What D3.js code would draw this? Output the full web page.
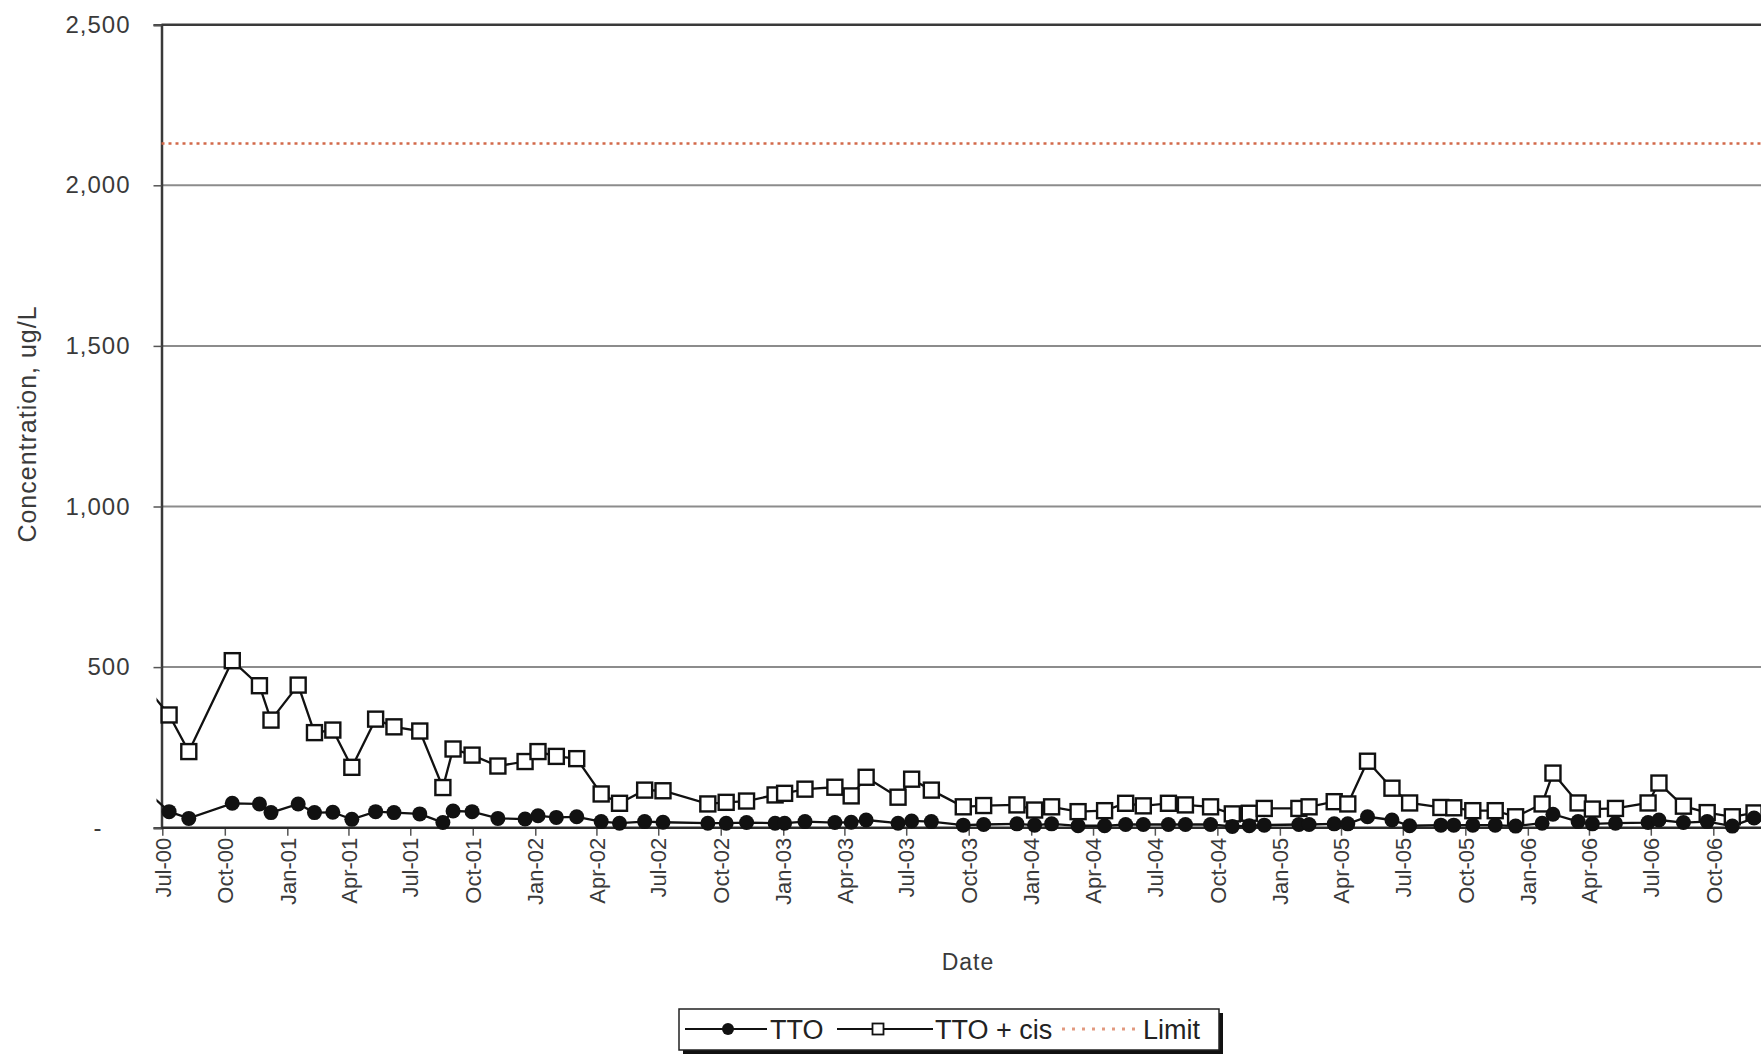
<!DOCTYPE html>
<html>
<head>
<meta charset="utf-8">
<script src="https://cdn.jsdelivr.net/npm/d3@7/dist/d3.min.js"></script>
<style>
  html, body { margin: 0; padding: 0; background: #ffffff; }
  svg { display: block; font-family: "Liberation Sans", Arial, Helvetica, sans-serif; }
</style>
</head>
<body>
<svg id="chart" width="1761" height="1055"></svg>
<script>
// ---------------- DATA ----------------
const sampleDates = [
  "2000-06-13","2000-07-11","2000-08-09","2000-10-12","2000-11-21","2000-12-08",
  "2001-01-17","2001-02-10","2001-03-09","2001-04-06","2001-05-11","2001-06-07",
  "2001-07-15","2001-08-18","2001-09-02","2001-09-30","2001-11-07","2001-12-17",
  "2002-01-05","2002-02-01","2002-03-03","2002-04-08","2002-05-05","2002-06-11",
  "2002-07-08","2002-09-12","2002-10-09","2002-11-08","2002-12-20",
  "2003-01-03","2003-02-02","2003-03-18","2003-04-11","2003-05-03","2003-06-19",
  "2003-07-09","2003-08-07","2003-09-23","2003-10-23","2003-12-11",
  "2004-01-06","2004-01-31","2004-03-10","2004-04-18","2004-05-19","2004-06-14",
  "2004-07-21","2004-08-15","2004-09-21","2004-10-23","2004-11-17","2004-12-09",
  "2005-01-29","2005-02-13","2005-03-22","2005-04-11","2005-05-10","2005-06-15",
  "2005-07-11","2005-08-26","2005-09-14","2005-10-12","2005-11-14","2005-12-14",
  "2006-01-22","2006-02-07","2006-03-16","2006-04-06","2006-05-10","2006-06-27",
  "2006-07-13","2006-08-18","2006-09-22","2006-10-29","2006-11-30"
];
const ttoValues = [
  104, 50, 29, 76, 74, 47,
  74, 47, 48, 26, 50, 47,
  43, 16, 52, 50, 29, 27,
  37, 32, 34, 19, 14, 19,
  17, 14, 14, 16, 14,
  14, 19, 16, 17, 24, 14,
  21, 19, 8, 10, 12,
  8, 12, 6, 6, 10, 10,
  10, 10, 10, 4, 6, 8,
  10, 10, 12, 12, 34, 24,
  6, 8, 8, 8, 8, 5,
  14, 42, 19, 12, 14, 16,
  24, 16, 19, 5, 30
];
const ttoCisValues = [
  423, 351, 237, 520, 442, 335,
  444, 296, 304, 188, 338, 314,
  301, 125, 245, 226, 192, 206,
  237, 222, 215, 105, 76, 117,
  115, 74, 79, 83, 102,
  107, 120, 126, 99, 157, 95,
  151, 117, 65, 69, 71,
  55, 65, 50, 53, 76, 68,
  76, 71, 65, 43, 45, 60,
  60, 65, 81, 74, 207, 123,
  77, 63, 62, 53, 53, 34,
  74, 170, 77, 58, 60, 77,
  139, 67, 47, 34, 46
];
const limitValue = 2130;
const yTickValues = [0, 500, 1000, 1500, 2000, 2500];
const seriesNames = ["TTO", "TTO + cis", "Limit"];
const xAxisTitle = "Date";
const yAxisTitle = "Concentration, ug/L";

// ---------------- LAYOUT ----------------
const W = 1761, H = 1055;
const plotLeft = 161.5, plotRight = 1761, plotTop = 24.7, plotBottom = 827.7;

const parse = d3.timeParse("%Y-%m-%d");
const dates = sampleDates.map(parse);
const tto = dates.map((d, i) => ({ date: d, value: ttoValues[i] }));
const ttoCis = dates.map((d, i) => ({ date: d, value: ttoCisValues[i] }));

const x = d3.scaleTime()
  .domain([parse("2000-07-01"), parse("2006-10-01")])
  .range([162.3, 1713.3]);
const y = d3.scaleLinear().domain([0, 2500]).range([plotBottom, plotTop]);

const svg = d3.select("#chart");
svg.append("rect").attr("width", W).attr("height", H).attr("fill", "#ffffff");

svg.append("defs").append("clipPath").attr("id", "plotclip")
  .append("rect").attr("x", plotLeft - 5).attr("y", 0)
  .attr("width", plotRight - plotLeft + 5).attr("height", H);

// grid lines
const grid = svg.append("g");
grid.selectAll("line.grid")
  .data(yTickValues.filter(v => v > 0 && v < 2500))
  .join("line")
  .attr("x1", plotLeft).attr("x2", plotRight)
  .attr("y1", d => y(d)).attr("y2", d => y(d))
  .attr("stroke", "#8c8c8c").attr("stroke-width", 2);
grid.append("line")
  .attr("x1", plotLeft).attr("x2", plotRight)
  .attr("y1", y(2500)).attr("y2", y(2500))
  .attr("stroke", "#3a3a3a").attr("stroke-width", 2.5);

// Y axis
const yAxis = d3.axisLeft(y).tickValues(yTickValues).tickSize(8).tickPadding(23)
  .tickFormat(v => v === 0 ? "-" : d3.format(",")(v));
const gy = svg.append("g").attr("transform", `translate(${plotLeft},0)`).call(yAxis);
gy.select(".domain").attr("stroke", "#3a3a3a").attr("stroke-width", 2.5);
gy.selectAll(".tick line").attr("stroke", "#555").attr("stroke-width", 1.5);
gy.selectAll(".tick text")
  .attr("fill", "#3a3a3a").style("font-size", "24px").style("letter-spacing", "1px")
  .attr("dx", d => d === 0 ? -28 : 0);

// X axis
const xTicks = d3.timeMonth.every(3).range(parse("2000-07-01"), parse("2006-12-01"));
const xAxis = d3.axisBottom(x).tickValues(xTicks).tickSize(8).tickFormat(d3.timeFormat("%b-%y"));
const gx = svg.append("g").attr("transform", `translate(0,${plotBottom})`).call(xAxis);
gx.select(".domain").remove();
gx.append("line").attr("x1", plotLeft).attr("x2", plotRight).attr("y1", 0).attr("y2", 0)
  .attr("stroke", "#2a2a2a").attr("stroke-width", 2.5);
gx.selectAll(".tick line").attr("stroke", "#555").attr("stroke-width", 1.5);
gx.selectAll(".tick text")
  .attr("transform", "rotate(-90)")
  .attr("x", -10).attr("y", 0).attr("dy", "0.35em")
  .style("text-anchor", "end")
  .attr("fill", "#3a3a3a").style("font-size", "22px");

// Axis titles
svg.append("text")
  .attr("x", 968).attr("y", 970).attr("text-anchor", "middle")
  .attr("fill", "#3a3a3a").style("font-size", "23px").style("letter-spacing", "1px")
  .text(xAxisTitle);
svg.append("text")
  .attr("transform", `translate(36,424) rotate(-90)`)
  .attr("text-anchor", "middle")
  .attr("fill", "#3a3a3a").style("font-size", "25px").style("letter-spacing", "1px")
  .text(yAxisTitle);

// Limit line
svg.append("line")
  .attr("x1", plotLeft).attr("x2", plotRight)
  .attr("y1", y(limitValue)).attr("y2", y(limitValue))
  .attr("stroke", "#d2694a").attr("stroke-width", 2.5)
  .attr("stroke-dasharray", "3,4");

// Series
const series = svg.append("g").attr("clip-path", "url(#plotclip)");
const line = d3.line().x(d => x(d.date)).y(d => y(d.value));

series.append("path").datum(ttoCis).attr("d", line)
  .attr("fill", "none").attr("stroke", "#111").attr("stroke-width", 2.3);
series.append("path").datum(tto).attr("d", line)
  .attr("fill", "none").attr("stroke", "#111").attr("stroke-width", 2.3);

const sq = 15;
series.selectAll("rect.cis").data(ttoCis.slice(1)).join("rect")
  .attr("class", "cis")
  .attr("x", d => x(d.date) - sq / 2).attr("y", d => y(d.value) - sq / 2)
  .attr("width", sq).attr("height", sq)
  .attr("fill", "#fff").attr("stroke", "#111").attr("stroke-width", 2.4);
series.selectAll("circle.tto").data(tto.slice(1)).join("circle")
  .attr("class", "tto")
  .attr("cx", d => x(d.date)).attr("cy", d => y(d.value)).attr("r", 7.5)
  .attr("fill", "#111");

// Legend
const lg = svg.append("g");
const lx = 679, ly = 1009, lw = 540, lh = 41;
lg.append("rect").attr("x", lx + 4).attr("y", ly + 4).attr("width", lw).attr("height", lh).attr("fill", "#111");
lg.append("rect").attr("x", lx).attr("y", ly).attr("width", lw).attr("height", lh)
  .attr("fill", "#fff").attr("stroke", "#222").attr("stroke-width", 1.5);
const midY = ly + 20;
// item 1
lg.append("line").attr("x1", 685).attr("x2", 767).attr("y1", midY).attr("y2", midY)
  .attr("stroke", "#111").attr("stroke-width", 2);
lg.append("circle").attr("cx", 728).attr("cy", midY).attr("r", 6).attr("fill", "#111");
lg.append("text").attr("x", 770).attr("y", midY + 10).style("font-size", "27px").attr("fill", "#222").text(seriesNames[0]);
// item 2
lg.append("line").attr("x1", 837).attr("x2", 933).attr("y1", midY).attr("y2", midY)
  .attr("stroke", "#111").attr("stroke-width", 2);
lg.append("rect").attr("x", 878 - 5.5).attr("y", midY - 5.5).attr("width", 11).attr("height", 11)
  .attr("fill", "#fff").attr("stroke", "#111").attr("stroke-width", 1.8);
lg.append("text").attr("x", 935).attr("y", midY + 10).style("font-size", "27px").attr("fill", "#222").text(seriesNames[1]);
// item 3
lg.append("line").attr("x1", 1062).attr("x2", 1140).attr("y1", midY).attr("y2", midY)
  .attr("stroke", "#e29a80").attr("stroke-width", 3).attr("stroke-dasharray", "3,7");
lg.append("text").attr("x", 1143).attr("y", midY + 10).style("font-size", "27px").attr("fill", "#222").text(seriesNames[2]);
</script>
</body>
</html>
